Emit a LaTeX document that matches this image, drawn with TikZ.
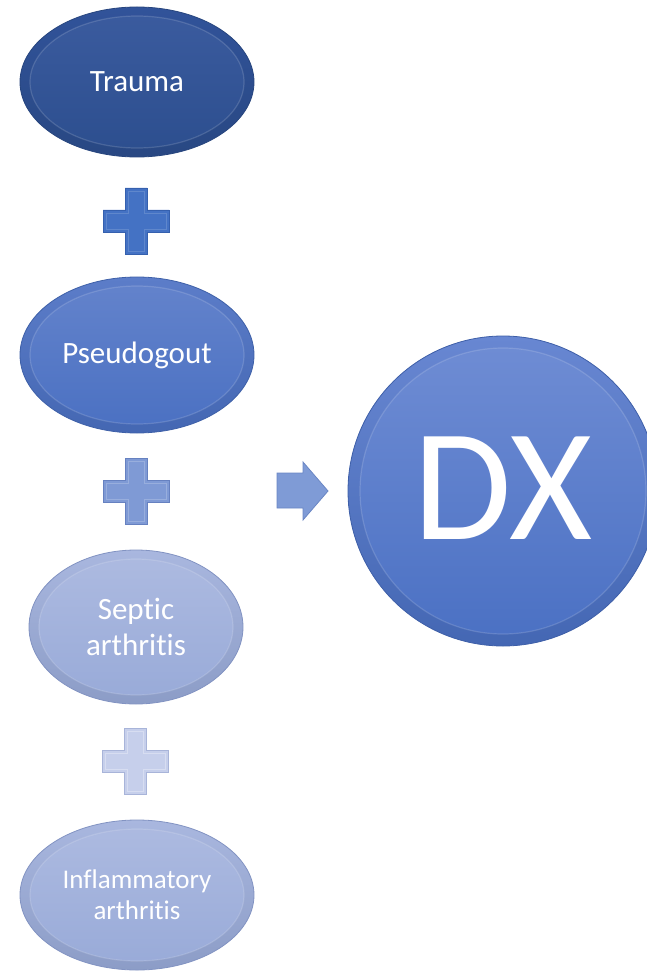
\documentclass[tikz,border=0pt]{standalone}
\usepackage{fontspec}
\setmainfont{Carlito}[Ligatures=NoCommon,RawFeature=-liga]
\usetikzlibrary{shapes.geometric}
\definecolor{trTop}{HTML}{31539A}
\definecolor{trBot}{HTML}{2C4E8E}
\definecolor{trRim}{HTML}{27457E}
\definecolor{psTop}{HTML}{5C7DC9}
\definecolor{psBot}{HTML}{4A70C2}
\definecolor{psRim}{HTML}{3E60A8}
\definecolor{seTop}{HTML}{A9B7DF}
\definecolor{seBot}{HTML}{98AAD8}
\definecolor{seRim}{HTML}{8293C2}
\definecolor{dxTop}{HTML}{6887D2}
\definecolor{dxBot}{HTML}{4A70C3}
\definecolor{dxRim}{HTML}{3E5FA8}
\definecolor{plA}{HTML}{4472C4}
\definecolor{plAr}{HTML}{3560AE}
\definecolor{plB}{HTML}{7F9AD5}
\definecolor{plBr}{HTML}{6681C0}
\definecolor{plC}{HTML}{C6CFEB}
\definecolor{plCr}{HTML}{A8B4D9}
\definecolor{arF}{HTML}{7F9BD6}
\definecolor{arR}{HTML}{6A86C4}
\tikzset{
  bev/.style n args={5}{ellipse, inner sep=0pt, minimum width=#1, minimum height=#2,
    draw=#5, line width=0.8pt, top color=#3, bottom color=#4!92!black, text=white, align=center,
    path picture={
      \shade[top color=#3!95!white, bottom color=#4]
        (path picture bounding box.center) ellipse [x radius=#1/2-10pt, y radius=#2/2-9pt];
      \draw[white, opacity=.15, line width=1.2pt]
        (path picture bounding box.center) ellipse [x radius=#1/2-10pt, y radius=#2/2-9pt];
    }},
  bigfont/.style={font=\fontsize{31}{36}\selectfont},
  smallfont/.style={font=\fontsize{27}{31}\selectfont},
  plusshape/.style={line width=0.8pt, line join=miter},
}
\newcommand\myplus[5]{%
  \filldraw[plusshape, fill=#3, draw=#4, shift={(#1,#2)}]
    (-11,-33) -- (11,-33) -- (11,-11) -- (33,-11) -- (33,11) -- (11,11) --
    (11,33) -- (-11,33) -- (-11,11) -- (-33,11) -- (-33,-11) -- (-11,-11) -- cycle;
  \draw[white, opacity=#5, line width=0.8pt, shift={(#1,#2)}]
    (-8,-30) -- (8,-30) -- (8,-8) -- (30,-8) -- (30,8) -- (8,8) --
    (8,30) -- (-8,30) -- (-8,8) -- (-30,8) -- (-30,-8) -- (-8,-8) -- cycle;
}
\begin{document}
\begin{tikzpicture}[x=1pt,y=-1pt]
\useasboundingbox (0,0) rectangle (646,973);

\node[bev={234pt}{150pt}{trTop}{trBot}{trRim}, bigfont] (trauma) at (137,82) {Trauma};
\node[bev={234pt}{156pt}{psTop}{psBot}{psRim}, bigfont] (pseudo) at (137,355) {Pseudogout};
\node[bev={214pt}{154pt}{seTop}{seBot}{seRim}, bigfont] (septic) at (136,627) {Septic\\arthritis};
\node[bev={234pt}{150pt}{seTop}{seBot}{seRim}, smallfont] (inflam) at (137,895) {Inflammatory\\arthritis};

\myplus{136}{221}{plA}{plAr}{0.15}
\myplus{136}{491}{plB}{plBr}{0.2}
\myplus{135}{761}{plC}{plCr}{0.3}

\filldraw[fill=arF, draw=arR, line width=0.8pt, line join=miter]
  (277,473) -- (303,473) -- (303,462) -- (328,491) -- (303,520) -- (303,508) -- (277,508) -- cycle;

\node[circle, inner sep=0pt, minimum size=310pt, draw=dxRim, line width=0.8pt,
      top color=dxTop, bottom color=dxBot!92!black, text=white,
      font=\fontsize{160}{160}\selectfont,
      path picture={
        \shade[top color=dxTop!95!white, bottom color=dxBot]
          (path picture bounding box.center) circle [radius=143pt];
        \draw[white, opacity=.15, line width=1.2pt]
          (path picture bounding box.center) circle [radius=143pt];
      }] (dx) at (503,491) {\raisebox{6pt}{DX}};
\end{tikzpicture}
\end{document}
